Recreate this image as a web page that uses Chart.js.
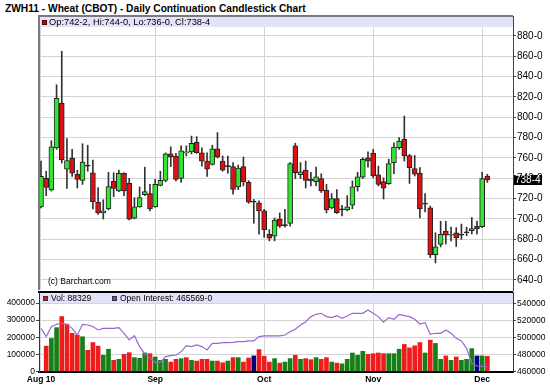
<!DOCTYPE html>
<html><head><meta charset="utf-8">
<script src="https://cdn.jsdelivr.net/npm/chart.js@4.4.0/dist/chart.umd.min.js"></script>
<style>
html,body{margin:0;padding:0;background:#fff;width:550px;height:392px;overflow:hidden;}
#title{position:absolute;left:5px;top:3px;line-height:13px;font:bold 10.2px "Liberation Sans",Arial,sans-serif;color:#000;white-space:nowrap;}
#c1{position:absolute;left:0;top:0;}
#c2{position:absolute;left:0;top:290px;}
</style></head><body>
<div id="title">ZWH11 - Wheat (CBOT) - Daily Continuation Candlestick Chart</div>
<canvas id="c1" width="550" height="292"></canvas>
<canvas id="c2" width="550" height="102"></canvas>
<script>
// ---- data (trading days from Aug 2, 2010 to Dec 2, 2010) ----
const opens  = [712,740,728.5,770,813.75,749,760,744,738,752,745.5,716.75,706,710,737,727.5,745,735,700.75,712,724,725,712,733,738,764,762,740,765,766,775.75,765,757,753.75,769,757,751.5,751.5,731.5,751.5,736,716.5,716,708,685,683,699.75,693.5,695.75,772,743.5,748,739,736.75,739.75,728.5,711,720,709,709,713.5,731.75,741.25,760.25,764.5,743.5,736.75,734.75,755.5,770.25,778.25,762.5,749.5,745,714.5,711,665,675,688,684,686.5,684,686.5,688.5,693,692.5,742.25];
const highs  = [757,747,777,832,865,779,768.5,748,774,772.5,758,731,719,746,745.5,748,745.5,740,721,731.5,751,734,739,747,765,771,764.5,772,772,781.5,781,770,765,772.5,785,762,762,755.5,753,761,737.75,719.25,717.75,709.5,689.5,701,706,709.5,755.5,774.5,755.5,757,746,751,744.5,734,725,729,713.5,723,737.5,746,760.25,766,768.5,752,740.5,758.75,775,780,801.25,763.5,762.5,750.5,725,712.75,686.5,697.75,697.75,692,691.5,695,692,701.5,698,746,744];
const lows   = [711,723,727.5,768.5,755,730,742,730.5,734,747,710,704.5,700,709,722,727,723,699,700,711.5,723,708,711.5,732.5,736.5,751.5,737.5,736,762,764,764.5,752,742,753,760,747,745,724.5,729,732.5,715.5,695.75,685,682,678.5,678.5,691.75,692,693,739.75,739.75,730.5,732.5,732.5,726,706,710,705.5,703,708,710,727.5,739.75,751,740.5,732.5,719.75,734,744.5,768.5,757,735,742.25,701,707,662,656.75,672.5,675.5,678.5,673,680,683.5,685.25,685,691.5,736];
const closes = [742,731,771,818.75,758,757.5,745,739,756,752,717,706,708,732,730,745,727.5,699.75,712,721,727,710,734,738,764,761,739,767,766,774.5,765.25,757,749,769,761,748,751.5,729,750,736.5,716.5,716.5,708,689.5,681.25,699,693,693.5,754.5,745.5,746.5,738,737.75,741.5,727.5,709,720,706,709,712,731.75,741.5,758.75,757,742.25,734,730.25,754.5,770.75,776.75,762,750.5,744,710,714.5,665,672.5,685,684,684.25,681.5,684,686.5,690.5,690.5,739.75,738.5];
const volumes = [null,148000,193000,256000,321000,276000,223000,213000,203000,124000,169000,148000,95000,130000,65000,71000,100000,110000,81000,77000,108000,104000,85000,65000,71000,55000,71000,75000,81000,65000,61000,71000,71000,61000,61000,51000,61000,81000,81000,55000,79000,91000,128000,89000,55000,75000,49000,55000,75000,95000,71000,75000,69000,81000,71000,81000,55000,49000,45000,71000,108000,95000,118000,100000,104000,108000,104000,104000,104000,130000,158000,138000,150000,169000,108000,183000,164000,71000,91000,65000,85000,65000,71000,134000,91000,91000,88329];
const openInterest = [510700,501000,512700,515400,516600,515400,510700,503000,515400,514600,512700,508800,510700,510700,510700,511500,504900,497100,502100,489300,480700,476400,470900,470900,477600,478700,479500,483400,490400,489300,491200,489300,485400,493200,493200,494000,494000,494300,495100,495100,495900,495900,501000,501800,501800,501800,501800,502900,506800,509600,514600,518500,524400,527100,528300,524400,523200,525600,522400,525200,528300,528300,528300,532200,528300,524400,517800,523200,521300,527100,525600,524400,521300,515800,517400,503700,504900,504900,508800,504900,499000,495900,487300,469800,466600,466200,465569];
const monthLabels = ['Aug 10','Sep','Oct','Nov','Dec'];
const monthStartIdx = [0,22,43,64,85];
const priceTicks = [640,660,680,700,720,740,760,780,800,820,840,860,880];
const volumeTicks = [0,100000,200000,300000,400000];
const oiTicks = [460000,480000,500000,520000,540000];

// ---- helpers ----
const FONT = '"Liberation Sans", Arial, sans-serif';
Chart.defaults.font.family = FONT;
Chart.defaults.color = '#000';
const N = closes.length, last = N - 1;
const idx = closes.map((_, i) => i);
const fmt = v => { const w = Math.floor(v); return w + '-' + Math.round((v - w) * 8); };
const GRID = '#d4d4d4';
const xMin = -0.385, xMax = 90.94;
const bodyColors = idx.map(i => closes[i] > opens[i] ? '#33e633' : (closes[i] < opens[i] ? '#dd1111' : '#222'));
const volColors = idx.map(i => {
  if (i === 0) return '#117a11';
  return closes[i] > closes[i-1] ? '#167f16' : (closes[i] < closes[i-1] ? '#ee1c1c' : '#000080');
});
const noPad = s => { s.paddingTop = 0; s.paddingBottom = 0; s.paddingLeft = 0; s.paddingRight = 0; };
const monthXAxis = extra => Object.assign({
  type: 'linear', min: xMin, max: xMax, offset: false,
  afterBuildTicks: s => { s.ticks = monthStartIdx.map(v => ({value: v})); }
}, extra);

// ---- price panel ----
const topOverlay = {
  id: 'topOverlay',
  afterDraw(chart) {
    const a = chart.chartArea, ctx = chart.ctx;
    ctx.save();
    ctx.fillStyle = '#e2e2f8';
    ctx.fillRect(a.left + 1, a.top + 1, a.right - a.left - 1, 10);
    ctx.fillStyle = '#7a7a7a';
    ctx.fillRect(a.left - 1, a.top - 1, a.right - a.left + 1, 2);
    ctx.fillRect(a.left - 1, a.top - 1, 2, a.bottom - a.top + 1);
    ctx.fillStyle = '#cc0000';
    ctx.fillRect(42, 20, 5, 5);
    ctx.strokeStyle = '#550000'; ctx.lineWidth = 1;
    ctx.strokeRect(42.5, 20.5, 4, 4);
    ctx.fillStyle = '#000';
    ctx.textBaseline = 'middle'; ctx.textAlign = 'left';
    ctx.font = '9.3px ' + FONT;
    ctx.fillText('Op:' + fmt(opens[last]) + ', Hi:' + fmt(highs[last]) + ', Lo:' + fmt(lows[last]) + ', Cl:' + fmt(closes[last]), 49, 22.5);
    ctx.font = '8.5px ' + FONT;
    ctx.fillText('(c) Barchart.com', 48, 282);
    const y = chart.scales.y.getPixelForValue(closes[last]);
    ctx.fillStyle = '#000';
    ctx.fillRect(514, Math.round(y) - 5, 28, 10);
    ctx.fillStyle = '#fff';
    ctx.font = '10px ' + FONT;
    ctx.fillText(fmt(closes[last]), 515, Math.round(y));
    ctx.restore();
  }
};

new Chart(document.getElementById('c1'), {
  type: 'bar',
  data: {
    datasets: [
      { label: 'body', data: idx.map(i => ({x: i, y: [opens[i], closes[i]]})),
        backgroundColor: bodyColors, borderColor: '#222', borderWidth: 1, borderSkipped: false,
        barThickness: 5, minBarLength: 1, grouped: false, order: 0 },
      { label: 'wick', data: idx.map(i => ({x: i, y: [lows[i], highs[i]]})),
        backgroundColor: '#333', borderWidth: 0, barThickness: 1, grouped: false, order: 1 }
    ]
  },
  options: {
    responsive: false, animation: false, events: [],
    layout: { padding: { left: 39, top: 16, right: 0, bottom: 2 } },
    plugins: { legend: { display: false }, tooltip: { enabled: false } },
    scales: {
      x: monthXAxis({
        grid: { color: GRID, drawTicks: false, offset: false },
        border: { display: false },
        ticks: { display: false },
        afterFit: s => { s.height = 0; noPad(s); }
      }),
      y: {
        position: 'right', min: 630.16, max: 899.67, beginAtZero: false,
        grid: { color: GRID, tickColor: '#444', tickLength: 3 },
        border: { color: '#444', width: 1 },
        ticks: { font: { size: 10 }, padding: 1, callback: v => fmt(v) },
        afterBuildTicks: s => { s.ticks = priceTicks.map(v => ({value: v})); },
        afterFit: s => { s.width = 37; noPad(s); }
      }
    }
  },
  plugins: [topOverlay]
});

// ---- volume / open interest panel ----
const volOverlay = {
  id: 'volOverlay',
  afterDraw(chart) {
    const a = chart.chartArea, ctx = chart.ctx;
    ctx.save();
    ctx.fillStyle = '#e2e2f8';
    ctx.fillRect(a.left + 1, a.top + 1, a.right - a.left - 1, 10);
    ctx.fillStyle = '#000';
    ctx.fillRect(a.left - 1, a.top - 1, a.right - a.left + 1, 2);
    ctx.fillStyle = '#dd1111'; ctx.fillRect(43, 6, 5, 5);
    ctx.fillStyle = '#8a2be2'; ctx.fillRect(112, 6, 5, 5);
    ctx.strokeStyle = '#333'; ctx.lineWidth = 1;
    ctx.strokeRect(43.5, 6.5, 4, 4); ctx.strokeRect(112.5, 6.5, 4, 4);
    ctx.fillStyle = '#000';
    ctx.textBaseline = 'middle'; ctx.textAlign = 'left';
    ctx.font = '8.5px ' + FONT;
    ctx.fillText('Vol: ' + volumes[last], 51, 8.5);
    ctx.fillText('Open Interest: ' + fmt(openInterest[last]), 120, 8.5);
    ctx.restore();
  }
};

new Chart(document.getElementById('c2'), {
  type: 'bar',
  data: {
    datasets: [
      { type: 'line', data: idx.map(i => ({x: i, y: openInterest[i]})), yAxisID: 'yOI',
        borderColor: '#9a66d0', borderWidth: 1.2, pointRadius: 0, tension: 0, order: 0 },
      { type: 'bar', data: idx.map(i => ({x: i, y: volumes[i]})), yAxisID: 'yV',
        backgroundColor: volColors, barThickness: 4, grouped: false, order: 1 }
    ]
  },
  options: {
    responsive: false, animation: false, events: [],
    layout: { padding: { left: 0, top: 2, right: 0, bottom: 0 } },
    plugins: { legend: { display: false }, tooltip: { enabled: false } },
    scales: {
      x: monthXAxis({
        grid: { color: GRID, drawTicks: false, offset: false },
        border: { color: '#000', width: 2 },
        ticks: { font: { size: 8.5, weight: 'bold' }, padding: 3, maxRotation: 0, autoSkip: false,
                 callback: v => monthLabels[monthStartIdx.indexOf(v)] },
        afterFit: s => { s.height = 20; noPad(s); }
      }),
      yV: {
        position: 'left', min: -2920, max: 464234, beginAtZero: false,
        grid: { color: GRID, tickColor: '#444', tickLength: 3 },
        border: { color: '#333', width: 1 },
        ticks: { font: { size: 8.5 }, padding: 1, callback: v => String(v) },
        afterBuildTicks: s => { s.ticks = volumeTicks.map(v => ({value: v})); },
        afterFit: s => { s.width = 39; noPad(s); }
      },
      yOI: {
        position: 'right', min: 459600, max: 553200, beginAtZero: false,
        grid: { drawOnChartArea: false, tickColor: '#444', tickLength: 3 },
        border: { color: '#333', width: 1 },
        ticks: { font: { size: 8.5 }, padding: 1, callback: v => String(v) },
        afterBuildTicks: s => { s.ticks = oiTicks.map(v => ({value: v})); },
        afterFit: s => { s.width = 37; noPad(s); }
      }
    }
  },
  plugins: [volOverlay]
});
</script>
</body></html>
